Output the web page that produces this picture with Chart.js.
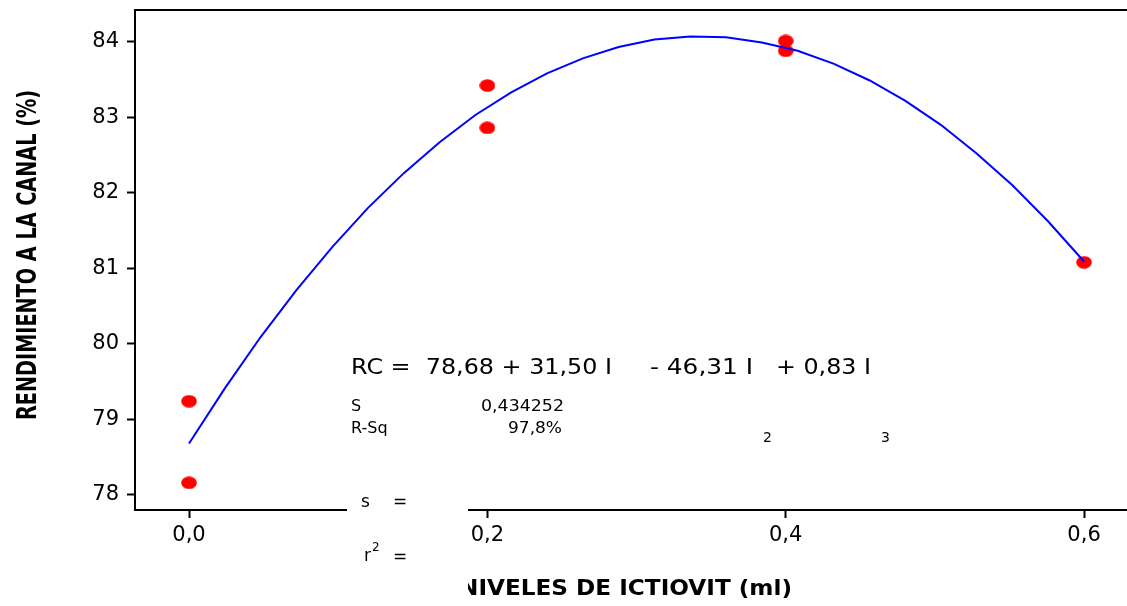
<!DOCTYPE html>
<html lang="es">
<head>
    <meta charset="UTF-8">
    <title>Rendimiento a la canal</title>
    <script src="https://cdn.jsdelivr.net/npm/chart.js"></script>
    <style>
        html, body { margin: 0; padding: 0; overflow: hidden; background: #fff; }
        .wrap { width: 1127px; height: 606px; position: relative; overflow: hidden; }
        canvas { display: block; }
    </style>
</head>
<body>
<div class="wrap"><canvas id="rcChart"></canvas></div>
<script>
    const obsX = [0.0, 0.0, 0.2, 0.2, 0.4, 0.4, 0.6];
    const obsY = [79.24, 78.16, 83.42, 82.86, 84.01, 83.88, 81.08];

    // fitted curve vertices as drawn in the picture
    const fitX = [0, 0.024, 0.048, 0.072, 0.096, 0.12, 0.144, 0.168, 0.192, 0.216, 0.24, 0.264, 0.288,
                  0.312, 0.336, 0.36, 0.384, 0.408, 0.432, 0.456, 0.48, 0.504, 0.528, 0.552, 0.576, 0.6];
    const fitY = [78.68, 79.41, 80.09, 80.71, 81.28, 81.80, 82.26, 82.67, 83.03, 83.33, 83.58, 83.78, 83.93,
                  84.03, 84.07, 84.06, 83.99, 83.88, 83.71, 83.49, 83.22, 82.90, 82.52, 82.10, 81.62, 81.09];

    const xTicks = [0.0, 0.2, 0.4, 0.6];
    const yTicks = [78, 79, 80, 81, 82, 83, 84];

    const FONT = '"DejaVu Sans", Verdana, sans-serif';

    // red oval marker
    const dot = document.createElement('canvas');
    dot.width = 16; dot.height = 13;
    const dctx = dot.getContext('2d');
    dctx.fillStyle = '#ff0000';
    dctx.beginPath();
    dctx.ellipse(8, 6.5, 7.8, 6.3, 0, 0, Math.PI * 2);
    dctx.fill();

    // draw text squeezed/stretched to a given width
    function fitText(ctx, text, x, y, width) {
        const w = ctx.measureText(text).width;
        ctx.save();
        ctx.translate(x, y);
        ctx.scale(width / w, 1);
        ctx.fillText(text, 0, 0);
        ctx.restore();
    }

    const overlay = {
        id: 'overlay',
        afterDraw(chart) {
            const ctx = chart.ctx;
            const a = chart.chartArea;
            ctx.save();
            // top frame line
            ctx.strokeStyle = '#000';
            ctx.lineWidth = 2;
            ctx.beginPath();
            ctx.moveTo(a.left - 1, a.top);
            ctx.lineTo(a.right, a.top);
            ctx.stroke();

            ctx.fillStyle = '#000';
            ctx.textBaseline = 'middle';
            ctx.textAlign = 'left';

            // axis titles
            ctx.font = 'bold 22px ' + FONT;
            fitText(ctx, 'NIVELES DE ICTIOVIT (ml)', 459, 589, 333);
            ctx.save();
            ctx.translate(29, 420);
            ctx.rotate(-Math.PI / 2);
            ctx.font = 'bold 27px ' + FONT;
            fitText(ctx, 'RENDIMIENTO A LA CANAL (%)', 0, 0, 330);
            ctx.restore();

            // regression equation
            ctx.font = '22px ' + FONT;
            fitText(ctx, 'RC =  78,68 + 31,50 I', 351, 368, 261);
            fitText(ctx, '- 46,31 I', 650, 368, 103);
            fitText(ctx, '+ 0,83 I', 776, 368, 95);

            ctx.font = '16px ' + FONT;
            ctx.fillText('S', 351, 407);
            fitText(ctx, '0,434252', 481, 407, 83);
            ctx.save();
            ctx.beginPath();
            ctx.rect(340, 415, 300, 23);
            ctx.clip();
            ctx.fillText('R-Sq', 351, 429);
            fitText(ctx, '97,8%', 508, 429, 54);
            ctx.restore();
            ctx.font = '14px ' + FONT;
            ctx.fillText('2', 763, 438);
            ctx.fillText('3', 881, 438);

            // white box over the axis
            ctx.fillStyle = '#fff';
            ctx.fillRect(347, 490, 121, 116);
            ctx.fillStyle = '#000';
            ctx.font = '17px ' + FONT;
            ctx.fillText('s', 361, 503);
            ctx.fillText('=', 393, 503);
            ctx.fillText('r', 364, 557);
            ctx.fillText('=', 393, 558);
            ctx.font = '12px ' + FONT;
            ctx.fillText('2', 372, 548);
            ctx.restore();
        }
    };

    const obsPoints = obsX.map((x, i) => ({ x: x, y: obsY[i] }));
    const fitPoints = fitX.map((x, i) => ({ x: x, y: fitY[i] }));

    new Chart(document.getElementById('rcChart'), {
        type: 'scatter',
        data: {
            datasets: [{
                label: 'Ajuste',
                data: fitPoints,
                showLine: true,
                borderColor: '#0000ff',
                borderWidth: 2,
                pointRadius: 0,
                tension: 0
            }, {
                label: 'Observado',
                data: obsPoints,
                pointStyle: dot,
                pointRadius: 7
            }]
        },
        options: {
            responsive: true,
            maintainAspectRatio: false,
            animation: false,
            layout: { autoPadding: false, padding: { top: 10, right: 0, left: 0, bottom: 0 } },
            plugins: {
                legend: { display: false },
                tooltip: { enabled: false }
            },
            scales: {
                x: {
                    type: 'linear',
                    min: -0.0362,
                    max: 0.6288,
                    afterFit: s => { s.height = 96; s.paddingLeft = 0; s.paddingRight = 0; },
                    afterBuildTicks: s => { s.ticks = xTicks.map(v => ({ value: v })); },
                    grid: { drawOnChartArea: false, drawTicks: true, tickLength: 8, tickWidth: 2, tickColor: '#000' },
                    border: { display: true, color: '#000', width: 2 },
                    ticks: {
                        color: '#000',
                        padding: 5,
                        font: { family: FONT, size: 21 },
                        callback: v => v.toFixed(1).replace('.', ',')
                    }
                },
                y: {
                    min: 77.80,
                    max: 84.42,
                    afterFit: s => { s.width = 135; s.paddingTop = 0; s.paddingBottom = 0; },
                    afterBuildTicks: s => { s.ticks = yTicks.map(v => ({ value: v })); },
                    grid: { drawOnChartArea: false, drawTicks: true, tickLength: 8, tickWidth: 2, tickColor: '#000' },
                    border: { display: true, color: '#000', width: 2 },
                    ticks: {
                        color: '#000',
                        padding: 8,
                        font: { family: FONT, size: 21 },
                        callback: v => String(v)
                    }
                }
            }
        },
        plugins: [overlay]
    });
</script>
</body>
</html>
